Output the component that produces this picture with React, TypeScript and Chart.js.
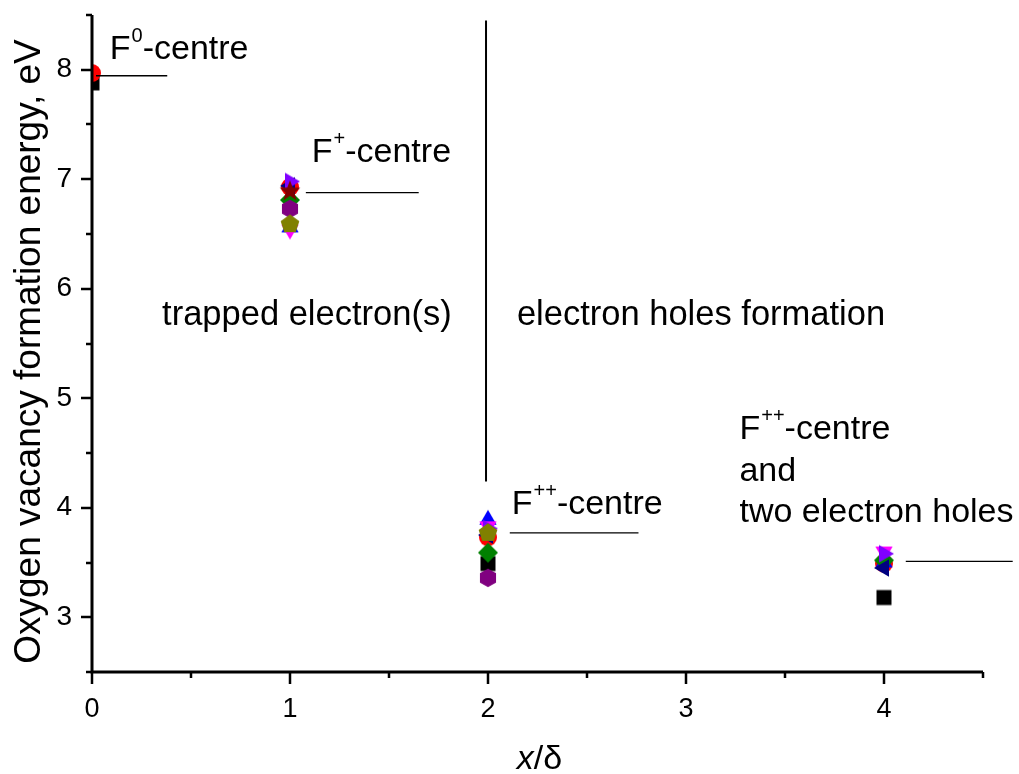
import React, { useEffect, useRef } from 'react';
import { Chart, registerables } from 'chart.js';

Chart.register(...registerables);

// ---------- data ----------
const xValues = [0, 1, 2, 4];
const seriesColors = ['#000000', '#FF0000', '#0000FF', '#FF00FF', '#008000', '#000080', '#8000FF', '#800080', '#800000', '#808000'];
const seriesShapes = ['square', 'circle', 'triangleUp', 'triangleDown', 'diamond', 'triangleLeft', 'triangleRight', 'hexagon', 'star', 'pentagon'];
const blackSquare = [7.88, null, 3.49, 3.18];
const redCircle = [7.97, 6.93, 3.73, 3.49];
const blueUp = [null, 6.56, 3.89, 3.5];
const magentaDown = [null, 6.54, 3.83, 3.6];
const greenDiamond = [null, 6.81, 3.59, 3.52];
const navyLeft = [null, 6.94, 3.75, 3.45];
const violetRight = [null, 6.98, 3.81, 3.58];
const purpleHexagon = [null, 6.73, 3.36, null];
const wineStar = [null, 6.89, null, null];
const olivePentagon = [null, 6.59, 3.77, null];
const seriesValues = [blackSquare, redCircle, blueUp, magentaDown, greenDiamond, navyLeft, violetRight, purpleHexagon, wineStar, olivePentagon];

const xTickValues = [0, 1, 2, 3, 4];
const yTickValues = [3, 4, 5, 6, 7, 8];
const xRange = [0, 4.5];
const yRange = [2.5, 8.5];

// annotation labels: [x, y, main, sup, rest, size]
const labelItems: [number, number, string, string, string, number][] = [
  [0.09, 8.1, 'F', '0', '-centre', 34],
  [1.11, 7.16, 'F', '+', '-centre', 34],
  [2.12, 3.945, 'F', '++', '-centre', 34],
  [3.27, 4.63, 'F', '++', '-centre', 34],
  [3.27, 4.247, 'and', '', '', 34],
  [3.27, 3.872, 'two electron holes', '', '', 34],
  [0.354, 5.665, 'trapped electron(s)', '', '', 34.5],
  [2.146, 5.665, 'electron holes formation', '', '', 34.5],
];
// leader lines: [x1, y1, x2, y2, width]
const lineItems: [number, number, number, number, number][] = [
  [0.02, 7.945, 0.38, 7.945, 1.3],
  [1.08, 6.877, 1.65, 6.877, 1.3],
  [2.11, 3.77, 2.76, 3.77, 1.3],
  [4.11, 3.51, 4.65, 3.51, 1.3],
  [1.99, 8.45, 1.99, 4.24, 2],
];

const FONT = "'Liberation Sans', Arial, Helvetica, sans-serif";

function makeShape(shape: string, color: string): HTMLCanvasElement {
  const c = document.createElement('canvas');
  c.width = 26;
  c.height = 26;
  const g = c.getContext('2d')!;
  const cx = 13, cy = 13;
  g.fillStyle = color;
  const poly = (n: number, r: number, start: number) => {
    g.beginPath();
    for (let i = 0; i < n; i++) {
      const a = (start + (i * 360) / n) * Math.PI / 180;
      const px = cx + r * Math.cos(a), py = cy + r * Math.sin(a);
      if (i === 0) g.moveTo(px, py); else g.lineTo(px, py);
    }
    g.closePath();
    g.fill();
  };
  switch (shape) {
    case 'square': g.fillRect(cx - 7.5, cy - 7.5, 15, 15); break;
    case 'circle': g.beginPath(); g.arc(cx, cy, 9, 0, Math.PI * 2); g.fill(); break;
    case 'triangleUp': poly(3, 10, -90); break;
    case 'triangleDown': poly(3, 10, 90); break;
    case 'triangleLeft': poly(3, 10, 180); break;
    case 'triangleRight': poly(3, 10, 0); break;
    case 'diamond': poly(4, 10, -90); break;
    case 'hexagon': poly(6, 9.3, -90); break;
    case 'pentagon': poly(5, 9.8, -90); break;
    case 'star': {
      g.beginPath();
      for (let i = 0; i < 10; i++) {
        const r = i % 2 === 0 ? 11 : 4.6;
        const a = (-90 + i * 36) * Math.PI / 180;
        const px = cx + r * Math.cos(a), py = cy + r * Math.sin(a);
        if (i === 0) g.moveTo(px, py); else g.lineTo(px, py);
      }
      g.closePath();
      g.fill();
      break;
    }
  }
  return c;
}

const decorPlugin = {
  id: 'decor',
  afterDatasetsDraw(chart: any) {
    const { ctx, chartArea: a, scales } = chart;
    const xs = scales.x, ys = scales.y;
    ctx.save();
    // axes
    ctx.strokeStyle = '#000';
    ctx.lineCap = 'butt';
    ctx.lineWidth = 3;
    ctx.beginPath();
    ctx.moveTo(a.left, a.top);
    ctx.lineTo(a.left, a.bottom + 1.5);
    ctx.moveTo(a.left - 1.5, a.bottom);
    ctx.lineTo(a.right, a.bottom);
    ctx.stroke();
    ctx.lineWidth = 2.5;
    ctx.beginPath();
    for (let v = yRange[0]; v <= yRange[1] + 1e-9; v += 0.5) {
      const py = Math.round(ys.getPixelForValue(v));
      const major = Math.abs(v - Math.round(v)) < 1e-6;
      ctx.moveTo(a.left, py);
      ctx.lineTo(a.left - (major ? 11 : 6), py);
    }
    for (let v = xRange[0]; v <= xRange[1] + 1e-9; v += 0.5) {
      const px = Math.round(xs.getPixelForValue(v));
      const major = Math.abs(v - Math.round(v)) < 1e-6;
      ctx.moveTo(px, a.bottom);
      ctx.lineTo(px, a.bottom + (major ? 12 : 6));
    }
    ctx.stroke();

    // leader lines
    ctx.strokeStyle = '#000';
    for (const [x1, y1, x2, y2, w] of lineItems) {
      ctx.lineWidth = w;
      ctx.beginPath();
      ctx.moveTo(xs.getPixelForValue(x1), ys.getPixelForValue(y1));
      ctx.lineTo(xs.getPixelForValue(x2), ys.getPixelForValue(y2));
      ctx.stroke();
    }

    // labels
    ctx.fillStyle = '#000';
    ctx.textBaseline = 'alphabetic';
    ctx.textAlign = 'left';
    for (const [x, y, main, sup, rest, size] of labelItems) {
      let px = xs.getPixelForValue(x);
      const py = ys.getPixelForValue(y);
      ctx.font = `${size}px ${FONT}`;
      ctx.fillText(main, px, py);
      px += ctx.measureText(main).width;
      if (sup) {
        const ss = Math.round(size * 0.6);
        ctx.font = `${ss}px ${FONT}`;
        ctx.fillText(sup, px + 1, py - size * 0.5);
        px += ctx.measureText(sup).width + 1;
      }
      if (rest) {
        ctx.font = `${size}px ${FONT}`;
        ctx.fillText(rest, px, py);
      }
    }

    // y title
    ctx.save();
    ctx.translate(30, (a.top + a.bottom) / 2 + 8);
    ctx.rotate(-Math.PI / 2);
    ctx.textAlign = 'center';
    ctx.textBaseline = 'middle';
    ctx.font = `37px ${FONT}`;
    ctx.fillText('Oxygen vacancy formation energy, eV', 0, 0);
    ctx.restore();

    // x title
    const xt1 = 'x', xt2 = '/δ';
    ctx.font = `italic 34px ${FONT}`;
    const w1 = ctx.measureText(xt1).width;
    ctx.font = `34px ${FONT}`;
    const w2 = ctx.measureText(xt2).width;
    const cx = (a.left + a.right) / 2 + 2;
    const base = a.bottom + 97;
    const sx = cx - (w1 + w2) / 2;
    ctx.font = `italic 34px ${FONT}`;
    ctx.fillText(xt1, sx, base);
    ctx.font = `34px ${FONT}`;
    ctx.fillText(xt2, sx + w1, base);
    ctx.restore();
  },
};

export default function App() {
  const ref = useRef<HTMLCanvasElement>(null);
  useEffect(() => {
    if (!ref.current) return;
    const n = seriesValues.length;
    const datasets = seriesValues.map((vals, i) => ({
      label: seriesShapes[i],
      data: xValues.map((x, j) => ({ x, y: vals[j] })).filter((p) => p.y !== null),
      pointStyle: makeShape(seriesShapes[i], seriesColors[i]),
      pointRadius: 9,
      backgroundColor: seriesColors[i],
      borderColor: seriesColors[i],
      showLine: false,
      clip: 0,
      order: n - i,
    }));
    const chart = new Chart(ref.current, {
      type: 'scatter',
      data: { datasets: datasets as any },
      options: {
        animation: false,
        responsive: false,
        devicePixelRatio: 1,
        layout: { padding: { left: 0, top: 15, right: 36, bottom: 0 } },
        plugins: { legend: { display: false }, tooltip: { enabled: false } },
        scales: {
          x: {
            type: 'linear',
            min: xRange[0],
            max: xRange[1],
            afterFit: (s: any) => { s.height = 102; s.paddingLeft = 0; s.paddingRight = 0; },
            afterBuildTicks: (s: any) => { s.ticks = xTickValues.map((v) => ({ value: v })); },
            grid: { display: false, drawTicks: false },
            border: { display: false },
            ticks: {
              color: '#000',
              font: { family: FONT, size: 27 },
              padding: 21,
              maxRotation: 0,
              callback: (v: any) => String(v),
            },
          },
          y: {
            type: 'linear',
            min: yRange[0],
            max: yRange[1],
            afterFit: (s: any) => { s.width = 92; s.paddingTop = 0; s.paddingBottom = 0; },
            afterBuildTicks: (s: any) => { s.ticks = yTickValues.map((v) => ({ value: v })); },
            grid: { display: false, drawTicks: false },
            border: { display: false },
            ticks: {
              color: '#000',
              font: { family: FONT, size: 28 },
              padding: 20,
              callback: (v: any) => String(v),
            },
          },
        },
      },
      plugins: [decorPlugin],
    });
    return () => chart.destroy();
  }, []);
  return (
    <div style={{ position: 'absolute', left: 0, top: 0, width: 1019, height: 774, background: '#fff' }}>
      <canvas ref={ref} width={1019} height={774} style={{ width: 1019, height: 774, display: 'block' }} />
    </div>
  );
}
